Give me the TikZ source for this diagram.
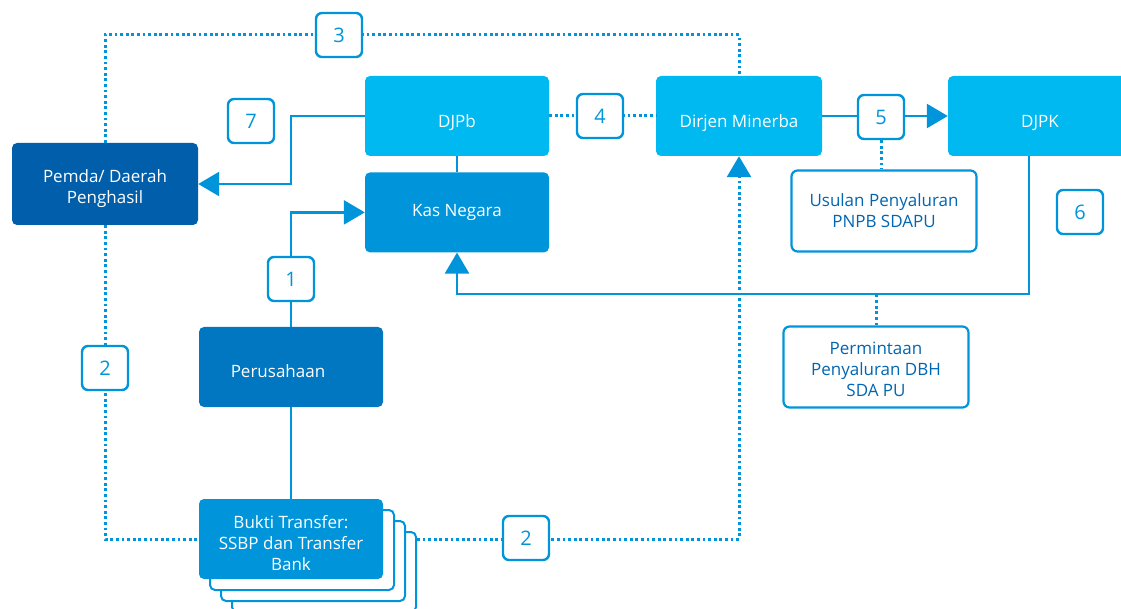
\documentclass[tikz,border=0pt]{standalone}
\usepackage{fontspec}
\setmainfont{Open Sans}
\usetikzlibrary{arrows.meta,positioning}
\definecolor{cyanbox}{HTML}{00B9F0}
\definecolor{kasblue}{HTML}{0095DA}
\definecolor{darkblue}{HTML}{005EAB}
\definecolor{midblue}{HTML}{0077C0}
\definecolor{linecol}{HTML}{0095DA}
\definecolor{labtext}{HTML}{0066B3}
\newcommand{\dropby}[1]{\rule{0pt}{#1}}
\tikzset{
  box/.style={rectangle, rounded corners=5pt, minimum width=184pt, minimum height=80pt,
    text=white, align=center, font=\fontsize{17}{21}\selectfont},
  page/.style={rectangle, rounded corners=5pt, draw=linecol, line width=2pt, fill=white,
    minimum width=184pt, minimum height=80pt},
  note/.style={rectangle, rounded corners=6pt, draw=linecol, line width=2.2pt, fill=white,
    minimum width=185pt, minimum height=81pt, text=labtext, align=center,
    font=\fontsize{17}{21}\selectfont},
  num/.style={rectangle, rounded corners=6pt, draw=linecol, line width=2.4pt, fill=white,
    minimum width=46pt, minimum height=44pt, text=linecol, font=\fontsize{20}{24}\selectfont},
  link/.style={draw=linecol, line width=2.6pt},
  dots/.style={draw=linecol, line width=3pt, dash pattern=on 2.8pt off 2.8pt},
  arrow/.style={-{Triangle[length=21pt,width=24pt]}}
}
\begin{document}
\begin{tikzpicture}[x=1pt,y=-1pt]
\useasboundingbox (0,0) rectangle (1121,609);
\clip (0,0) rectangle (1121,609);
% main boxes
\node (djpb)[box, fill=cyanbox] at (457,116) {\dropby{27pt}DJPb};
\node (kas)[box, fill=kasblue, below=16pt of djpb] {Kas Negara};
\node (dirjen)[box, fill=cyanbox, minimum width=166pt] at (739,116) {\dropby{27pt}Dirjen Minerba};
\node (djpk)[box, fill=cyanbox] at (1040,116) {\dropby{27pt}DJPK};
\node (pemda)[box, fill=darkblue, minimum width=186pt, minimum height=82pt] at (105,184) {\dropby{22pt}Pemda/ Daerah\\Penghasil};
\node (per)[box, fill=midblue] at (291,367) {\dropby{22pt}Perusahaan\hspace*{26pt}};
% stacked transfer slips
\node (pgc)[page] at (324,572) {};
\node (pgb)[page] at (313,561) {};
\node (pga)[page] at (302,550) {};
\node (bukti)[box, fill=kasblue] at (291,539) {\dropby{21pt}Bukti Transfer:\\SSBP dan Transfer\\Bank};
% notes
\node (usulan)[note] at (884,211) {Usulan Penyaluran\\PNPB SDAPU};
\node (perm)[note] at (876,367) {\dropby{18pt}Permintaan\\Penyaluran DBH\\SDA PU};
% connectors
\draw [dots] (pemda.north) -- ++(0,-108) -| (dirjen.north);
\draw [dots] (pemda.south) |- (bukti.west);
\draw [dots, arrow] (bukti.east -| pgc.east) -| (dirjen.south);
\draw [dots] (djpb.east) -- (dirjen.west);
\draw [link, arrow] (dirjen.east) -- (djpk.west);
\draw [link, arrow] (djpb.west) -- ++(-74,0) |- (pemda.east);
\draw [link] (djpb) -- (kas);
\draw [link, arrow] (per.north) |- (kas.west);
\draw [link] (per) -- (bukti);
\draw [link, arrow] ([xshift=-11pt]djpk.south) -- ++(0,138) coordinate (k6) -| (kas.south);
\draw [dots] (perm.north) -- (perm.north |- k6);
% step numbers
\node (n3)[num] at (339,35) {3};
\node (n7)[num] at (251,121) {7};
\node (n4)[num] at (600,116) {4};
\node (n5)[num] at (881,117) {5};
\node (n1)[num] at (291,279) {1};
\node (n6)[num] at (1080,212) {6};
\node (n2a)[num] at (105,368) {2};
\node (n2b)[num] at (526,538) {2};
\draw [dots] (n5.south) -- (n5.south |- usulan.north);
\end{tikzpicture}
\end{document}
